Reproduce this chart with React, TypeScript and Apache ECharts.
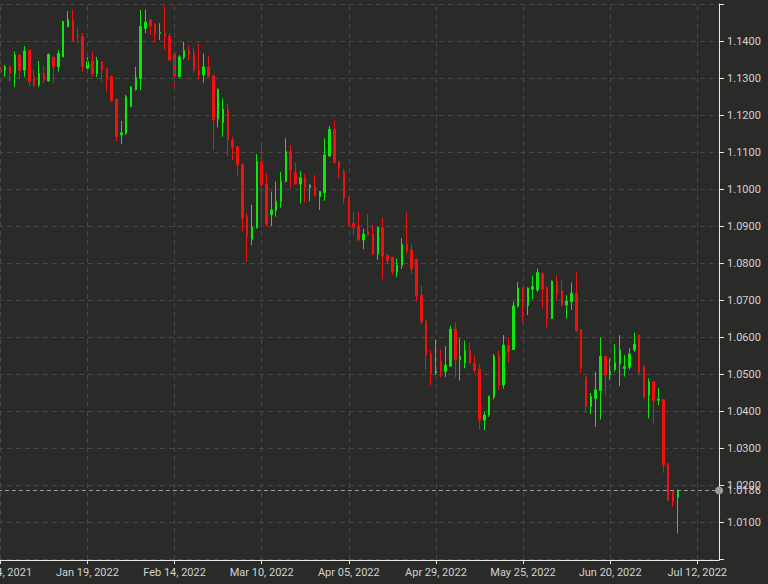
import React, { useEffect, useRef } from "react";
import * as echarts from "echarts";

// Trading-day calendar (category axis), plus a few future calendar slots after the last candle
const calendar: [string, number, number[]][] = [
  ["Dec", 2021, [24, 27, 28, 29, 30, 31]],
  ["Jan", 2022, [3, 4, 5, 6, 7, 10, 11, 12, 13, 14, 17, 18, 19, 20, 21, 24, 25, 26, 27, 28, 31]],
  ["Feb", 2022, [1, 2, 3, 4, 7, 8, 9, 10, 11, 14, 15, 16, 17, 18, 21, 22, 23, 24, 25, 28]],
  ["Mar", 2022, [1, 2, 3, 4, 7, 8, 9, 10, 11, 14, 15, 16, 17, 18, 21, 22, 23, 24, 25, 28, 29, 30, 31]],
  ["Apr", 2022, [1, 4, 5, 6, 7, 8, 11, 12, 13, 14, 15, 18, 19, 20, 21, 22, 25, 26, 27, 28, 29]],
  ["May", 2022, [2, 3, 4, 5, 6, 9, 10, 11, 12, 13, 16, 17, 18, 19, 20, 23, 24, 25, 26, 27, 30, 31]],
  ["Jun", 2022, [1, 2, 3, 6, 7, 8, 9, 10, 13, 14, 15, 16, 17, 20, 21, 22, 23, 24, 27, 28, 29, 30]],
  ["Jul", 2022, [1, 4, 5, 6, 7, 8, 9, 10, 11, 12, 13, 14, 15, 16]],
];
const categories: string[] = calendar.flatMap(([m, y, days]) =>
  days.map((d) => `${m} ${String(d).padStart(2, "0")}, ${y}`)
);

const opens = [
  1.1326, 1.1322, 1.1331, 1.1312, 1.1363, 1.1322, 1.1376, 1.1303, 1.1282, 1.1313,
  1.1293, 1.1357, 1.1331, 1.1358, 1.1440, 1.1459, 1.1414, 1.1413, 1.1327, 1.1346,
  1.1313, 1.1345, 1.1325, 1.1305, 1.1243, 1.1147, 1.1151, 1.1223, 1.1270, 1.1299,
  1.1435, 1.1458, 1.1447, 1.1421, 1.1423, 1.1414, 1.1367, 1.1304, 1.1357, 1.1376,
  1.1367, 1.1320, 1.1309, 1.1331, 1.1307, 1.1190, 1.1180, 1.1216, 1.1133, 1.1115,
  1.1068, 1.0926, 1.0865, 1.0896, 1.1075, 1.1014, 1.0931, 1.0942, 1.0967, 1.1021,
  1.1102, 1.1045, 1.1014, 1.1031, 1.1005, 1.1009, 1.0980, 1.0991, 1.1090, 1.1162,
  1.1075, 1.1048, 1.0978, 1.0908, 1.0899, 1.0863, 1.0885, 1.0879, 1.0825, 1.0897,
  1.0822, 1.0816, 1.0777, 1.0794, 1.0851, 1.0836, 1.0811, 1.0714, 1.0644, 1.0555,
  1.0503, 1.0534, 1.0507, 1.0522, 1.0622, 1.0539, 1.0531, 1.0564, 1.0530, 1.0514,
  1.0376, 1.0390, 1.0438, 1.0549, 1.0471, 1.0577, 1.0567, 1.0683, 1.0733, 1.0685,
  1.0730, 1.0728, 1.0773, 1.0735, 1.0651, 1.0750, 1.0726, 1.0687, 1.0696, 1.0719,
  1.0620, 1.0492, 1.0413, 1.0435, 1.0456, 1.0548, 1.0486, 1.0513, 1.0528, 1.0516,
  1.0519, 1.0566, 1.0606, 1.0522, 1.0444, 1.0480, 1.0430, 1.0432, 1.0258, 1.0186,
  1.0167,
];
const closes = [
  1.1318, 1.1331, 1.1313, 1.1363, 1.1322, 1.1374, 1.1291, 1.1282, 1.1313, 1.1295,
  1.1365, 1.1331, 1.1367, 1.1453, 1.1459, 1.1402, 1.1411, 1.1331, 1.1345, 1.1313,
  1.1349, 1.1322, 1.1300, 1.1239, 1.1142, 1.1153, 1.1250, 1.1276, 1.1302, 1.1440,
  1.1452, 1.1441, 1.1421, 1.1424, 1.1412, 1.1349, 1.1306, 1.1358, 1.1375, 1.1363,
  1.1322, 1.1309, 1.1331, 1.1304, 1.1187, 1.1270, 1.1217, 1.1133, 1.1113, 1.1066,
  1.0922, 1.0872, 1.0899, 1.1075, 1.1012, 1.0906, 1.0944, 1.0967, 1.1022, 1.1102,
  1.1052, 1.1014, 1.1031, 1.1005, 1.1011, 1.0984, 1.0994, 1.1093, 1.1162, 1.1072,
  1.1057, 1.0976, 1.0903, 1.0897, 1.0863, 1.0879, 1.0876, 1.0825, 1.0897, 1.0820,
  1.0807, 1.0777, 1.0795, 1.0851, 1.0833, 1.0785, 1.0712, 1.0642, 1.0552, 1.0501,
  1.0519, 1.0507, 1.0525, 1.0622, 1.0539, 1.0548, 1.0564, 1.0530, 1.0510, 1.0376,
  1.0390, 1.0441, 1.0549, 1.0471, 1.0579, 1.0561, 1.0685, 1.0733, 1.0685, 1.0733,
  1.0737, 1.0775, 1.0730, 1.0651, 1.0752, 1.0717, 1.0687, 1.0698, 1.0719, 1.0617,
  1.0516, 1.0413, 1.0440, 1.0458, 1.0548, 1.0498, 1.0521, 1.0531, 1.0566, 1.0521,
  1.0555, 1.0581, 1.0504, 1.0438, 1.0480, 1.0429, 1.0433, 1.0255, 1.0160, 1.0156,
  1.0186,
];
const lows = [
  1.1313, 1.1304, 1.1291, 1.1276, 1.1300, 1.1304, 1.1279, 1.1276, 1.1277, 1.1286,
  1.1291, 1.1286, 1.1318, 1.1357, 1.1437, 1.1399, 1.1395, 1.1318, 1.1318, 1.1304,
  1.1304, 1.1291, 1.1264, 1.1237, 1.1129, 1.1122, 1.1147, 1.1222, 1.1267, 1.1268,
  1.1422, 1.1417, 1.1396, 1.1403, 1.1376, 1.1348, 1.1277, 1.1303, 1.1351, 1.1349,
  1.1315, 1.1295, 1.1288, 1.1303, 1.1106, 1.1167, 1.1142, 1.1090, 1.1079, 1.1034,
  1.0886, 1.0804, 1.0849, 1.0894, 1.0908, 1.0899, 1.0901, 1.0926, 1.0950, 1.1019,
  1.1003, 1.1012, 1.0962, 1.0964, 1.0967, 1.0980, 1.0944, 1.0969, 1.1088, 1.1070,
  1.1030, 1.0960, 1.0899, 1.0876, 1.0861, 1.0838, 1.0874, 1.0821, 1.0809, 1.0757,
  1.0798, 1.0768, 1.0762, 1.0785, 1.0825, 1.0771, 1.0696, 1.0636, 1.0513, 1.0471,
  1.0498, 1.0492, 1.0492, 1.0521, 1.0492, 1.0483, 1.0516, 1.0528, 1.0503, 1.0351,
  1.0349, 1.0385, 1.0432, 1.0459, 1.0462, 1.0532, 1.0566, 1.0681, 1.0642, 1.0660,
  1.0703, 1.0723, 1.0678, 1.0627, 1.0649, 1.0701, 1.0685, 1.0651, 1.0674, 1.0615,
  1.0504, 1.0396, 1.0392, 1.0358, 1.0378, 1.0443, 1.0485, 1.0507, 1.0468, 1.0494,
  1.0512, 1.0561, 1.0501, 1.0432, 1.0381, 1.0366, 1.0417, 1.0234, 1.0158, 1.0142,
  1.0070,
];
const highs = [
  1.1331, 1.1336, 1.1335, 1.1372, 1.1365, 1.1387, 1.1378, 1.1324, 1.1347, 1.1334,
  1.1367, 1.1358, 1.1376, 1.1456, 1.1482, 1.1485, 1.1437, 1.1422, 1.1358, 1.1372,
  1.1358, 1.1347, 1.1327, 1.1308, 1.1245, 1.1185, 1.1255, 1.1279, 1.1331, 1.1485,
  1.1486, 1.1459, 1.1449, 1.1449, 1.1495, 1.1422, 1.1372, 1.1363, 1.1399, 1.1390,
  1.1381, 1.1393, 1.1367, 1.1360, 1.1309, 1.1273, 1.1246, 1.1232, 1.1142, 1.1117,
  1.1070, 1.0935, 1.0958, 1.1095, 1.1122, 1.1043, 1.0994, 1.1021, 1.1047, 1.1138,
  1.1120, 1.1072, 1.1050, 1.1041, 1.1014, 1.1039, 1.0995, 1.1138, 1.1171, 1.1186,
  1.1077, 1.1054, 1.0980, 1.0940, 1.0940, 1.0893, 1.0933, 1.0904, 1.0897, 1.0924,
  1.0824, 1.0818, 1.0813, 1.0868, 1.0937, 1.0851, 1.0813, 1.0739, 1.0646, 1.0566,
  1.0593, 1.0567, 1.0576, 1.0631, 1.0640, 1.0597, 1.0591, 1.0585, 1.0550, 1.0528,
  1.0399, 1.0442, 1.0555, 1.0564, 1.0606, 1.0600, 1.0696, 1.0749, 1.0735, 1.0735,
  1.0766, 1.0786, 1.0775, 1.0737, 1.0753, 1.0768, 1.0753, 1.0714, 1.0748, 1.0775,
  1.0622, 1.0495, 1.0449, 1.0507, 1.0600, 1.0549, 1.0543, 1.0582, 1.0606, 1.0552,
  1.0570, 1.0613, 1.0607, 1.0523, 1.0489, 1.0481, 1.0462, 1.0433, 1.0260, 1.0187,
  1.0189,
];

const LABEL_EVERY = 18;

export default function App() {
  const ref = useRef<HTMLDivElement>(null);

  useEffect(() => {
    if (!ref.current) return;
    const chart = echarts.init(ref.current, undefined, { renderer: "svg" });
    const candles = opens.map((o, i) => [o, closes[i], lows[i], highs[i]]);
    const lastPrice = closes[closes.length - 1];
    const tickCats = categories.filter((_, i) => i % LABEL_EVERY === 0);
    const gridColor = "#474845";
    const axisColor = "#e8e8e8";
    const textColor = "#d2d2d2";

    chart.setOption({
      animation: false,
      backgroundColor: "#2a2b28",
      grid: {
        left: -2.1,
        right: 48.94,
        top: 4,
        bottom: 24,
        containLabel: false,
        outerBoundsMode: "none",
      },
      xAxis: {
        type: "category",
        data: categories,
        boundaryGap: true,
        axisLine: { show: true, lineStyle: { color: axisColor, width: 1 } },
        axisTick: {
          show: true,
          interval: LABEL_EVERY - 1,
          alignWithLabel: true,
          length: 4,
          lineStyle: { color: axisColor },
        },
        axisLabel: {
          interval: LABEL_EVERY - 1,
          color: textColor,
          fontSize: 11,
          fontFamily: "Roboto",
          margin: 7,
          hideOverlap: false,
        },
        splitLine: { show: false },
      },
      yAxis: {
        type: "value",
        position: "right",
        scale: true,
        min: 0.99981,
        max: 1.15008,
        minInterval: 0.01,
        maxInterval: 0.01,
        splitNumber: 15,
        axisLine: { show: true, lineStyle: { color: axisColor, width: 1 } },
        axisTick: { show: true, length: 5, lineStyle: { color: axisColor } },
        axisLabel: {
          color: textColor,
          fontSize: 11,
          fontFamily: "Roboto",
          margin: 8,
          showMinLabel: false,
          showMaxLabel: false,
          formatter: (v: number) => (v > 1.005 && v < 1.145 ? v.toFixed(4) : ""),
        },
        splitLine: { show: true, lineStyle: { color: gridColor, type: [5, 4], width: 1 } },
      },
      series: [
        {
          type: "line",
          data: [],
          silent: true,
          symbol: "none",
          z: 1,
          markLine: {
            silent: true,
            symbol: ["none", "none"],
            label: { show: false },
            emphasis: { disabled: true },
            lineStyle: { color: gridColor, type: [5, 4], width: 1 },
            data: tickCats.map((c) => ({ xAxis: c })),
          },
        },
        {
          type: "candlestick",
          z: 3,
          data: candles,
          barWidth: 2,
          itemStyle: {
            color: "#0ce80c",
            color0: "#f01010",
            borderColor: "#0ce80c",
            borderColor0: "#f01010",
            borderWidth: 1,
          },
          emphasis: { disabled: true },
          markLine: {
            silent: true,
            precision: 4,
            symbol: ["none", "circle"],
            symbolSize: 8,
            emphasis: { disabled: true },
            lineStyle: { color: "#9c9c9c", type: [4, 3], width: 1 },
            itemStyle: { color: "#9c9c9c" },
            label: {
              show: true,
              position: "end",
              distance: 8,
              color: textColor,
              fontSize: 11,
              fontFamily: "Roboto",
              formatter: () => lastPrice.toFixed(4),
            },
            data: [{ yAxis: lastPrice }],
          },
        },
      ],
    });

    return () => chart.dispose();
  }, []);

  return (
    <div
      ref={ref}
      style={{ position: "fixed", left: 0, top: 0, width: 768, height: 584 }}
    />
  );
}
